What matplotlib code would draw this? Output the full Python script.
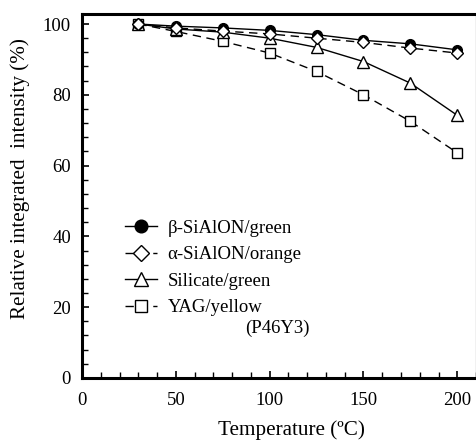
import matplotlib
matplotlib.use("Agg")
import matplotlib.pyplot as plt
from matplotlib.ticker import MultipleLocator

plt.rcParams['font.family'] = ['Liberation Serif', 'DejaVu Serif']

temp = [30, 50, 75, 100, 125, 150, 175, 200]
beta_sialon = [100, 99.4, 98.9, 98.2, 97.0, 95.4, 94.4, 92.7]
alpha_sialon = [100, 98.9, 98.0, 97.2, 96.0, 94.8, 93.2, 91.8]
silicate = [100, 98.6, 97.7, 96.0, 93.4, 89.4, 83.3, 74.2]
yag = [100, 97.9, 95.1, 91.8, 86.6, 80.0, 72.5, 63.6]

labels = ["\u03b2-SiAlON/green", "\u03b1-SiAlON/orange", "Silicate/green", "YAG/yellow"]

fig = plt.figure(figsize=(4.77, 4.41), dpi=100)
ax = fig.add_axes([0.172, 0.143, 0.826, 0.825])

dash = (0, (6, 4))
ax.plot(temp, beta_sialon, color="black", lw=1, linestyle="-", marker="o",
        markersize=7, markerfacecolor="black", label=labels[0], zorder=5)
ax.plot(temp, alpha_sialon, color="black", lw=1, linestyle=dash, marker="D",
        markersize=6, markerfacecolor="white", label=labels[1], zorder=6)
ax.plot(temp, silicate, color="black", lw=1, linestyle="-", marker="^",
        markersize=8, markerfacecolor="white", label=labels[2], zorder=4)
ax.plot(temp, yag, color="black", lw=1, linestyle=dash, marker="s",
        markersize=7, markerfacecolor="white", label=labels[3], zorder=3)

ax.set_xlim(0, 210)
ax.set_ylim(0, 102.8)
ax.xaxis.set_major_locator(MultipleLocator(50))
ax.xaxis.set_minor_locator(MultipleLocator(10))
ax.yaxis.set_major_locator(MultipleLocator(20))
ax.yaxis.set_minor_locator(MultipleLocator(4))
ax.tick_params(which="both", direction="in", top=False, right=False, labelsize=13.5)
ax.tick_params(which="major", length=5, width=1.2)
ax.tick_params(which="minor", length=4, width=1)
ax.tick_params(axis="x", pad=10)
ax.tick_params(axis="y", pad=8)

ax.spines['left'].set_linewidth(2.2)
ax.spines['bottom'].set_linewidth(2.2)
ax.spines['top'].set_linewidth(2.2)
ax.spines['right'].set_linewidth(0.8)

ax.set_xlabel("Temperature (\u00baC)", fontsize=15.2)
ax.set_ylabel("Relative integrated  intensity (%)", fontsize=15.2)
ax.xaxis.set_label_coords(0.532, -0.143)
ax.yaxis.set_label_coords(-0.157, 0.549)
ax.xaxis.label.set_va("center")
ax.yaxis.label.set_va("center")

leg = ax.legend(loc="upper left", bbox_to_anchor=(0.067, 0.481), frameon=False,
                fontsize=13.5, handlelength=1.7, handletextpad=0.55, labelspacing=0.5,
                markerscale=1.3)
ax.text(0.414, 0.137, "(P46Y3)", transform=ax.transAxes, fontsize=13.5, va="center")

fig.savefig("out.png", dpi=100)
